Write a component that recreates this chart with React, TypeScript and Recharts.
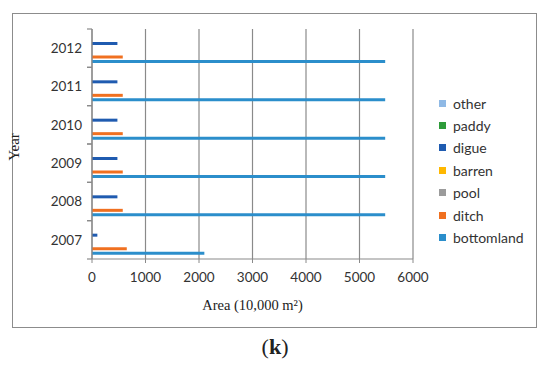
import React from "react";
import { BarChart, Bar, XAxis, YAxis, CartesianGrid, Label } from "recharts";

const years = ["2007", "2008", "2009", "2010", "2011", "2012"];
const bottomland = [2100, 5480, 5480, 5480, 5480, 5480];
const ditch = [650, 575, 575, 575, 575, 575];
const pool = [0, 0, 0, 0, 0, 0];
const barren = [0, 0, 0, 0, 0, 0];
const digue = [100, 475, 475, 475, 475, 475];
const paddy = [0, 0, 0, 0, 0, 0];
const other = [0, 0, 0, 0, 0, 0];
const xTicks = [0, 1000, 2000, 3000, 4000, 5000, 6000];

const series = [
  { key: "other", color: "#8FB9E5", values: other },
  { key: "paddy", color: "#2E9B3A", values: paddy },
  { key: "digue", color: "#1F5BB0", values: digue },
  { key: "barren", color: "#FFB800", values: barren },
  { key: "pool", color: "#9B9B9B", values: pool },
  { key: "ditch", color: "#F07020", values: ditch },
  { key: "bottomland", color: "#2B8ECB", values: bottomland },
];

const data = years.map((y, i) => {
  const row: Record<string, string | number> = { year: y };
  series.forEach((s) => (row[s.key] = s.values[i]));
  return row;
});

const FONT = "Lato, 'Open Sans', sans-serif";
const SERIF = "'Liberation Serif', 'Times New Roman', serif";
const AXIS = "#8a8a8a";

const YTick = (props: any) => {
  const { x, y, payload } = props;
  const off = payload && payload.offset ? payload.offset : 19.2;
  return (
    <g>
      <line x1={x + 5} x2={x + 10} y1={y - off} y2={y - off} stroke={AXIS} strokeWidth={1.2} />
      <line x1={x + 5} x2={x + 10} y1={y + off} y2={y + off} stroke={AXIS} strokeWidth={1.2} />
      <text x={x} y={y} dy="0.35em" textAnchor="end" fontFamily={FONT} fontSize={13.5} fill="#333">
        {payload.value}
      </text>
    </g>
  );
};

const LegendBox = () => (
  <div style={{ position: "absolute", left: 439, top: 92, fontFamily: FONT, fontSize: 14, color: "#333" }}>
    {series.map((s) => (
      <div key={s.key} style={{ height: 22.4, display: "flex", alignItems: "center" }}>
        <span style={{ display: "inline-block", width: 7, height: 7, background: s.color, marginRight: 7 }} />
        <span>{s.key}</span>
      </div>
    ))}
  </div>
);

export default function App() {
  return (
    <div style={{ position: "absolute", left: 0, top: 0, width: 550, height: 365, background: "#fff" }}>
      <div
        style={{
          position: "absolute",
          left: 12,
          top: 13,
          width: 525,
          height: 315,
          border: "1px solid #8c8c8c",
          boxSizing: "border-box",
        }}
      />
      <div style={{ position: "absolute", left: 0, top: 0 }}>
        <BarChart
          width={550}
          height={365}
          data={data}
          layout="vertical"
          margin={{ top: 29, right: 137, bottom: 0, left: 0 }}
          barSize={3}
          barGap={1.5}
        >
          <CartesianGrid horizontal={false} vertical stroke={AXIS} strokeWidth={1.2} />
          <XAxis
            type="number"
            domain={[0, 6000]}
            ticks={xTicks}
            height={106}
            tickSize={4}
            tickMargin={9}
            axisLine={{ stroke: AXIS, strokeWidth: 1.2 }}
            tickLine={{ stroke: AXIS }}
            tick={{ fontFamily: FONT, fontSize: 13.5, fill: "#333" }}
            interval={0}
          >
            <Label
              value="Area (10,000 m²)"
              position="insideTop"
              offset={41}
              style={{ fontFamily: SERIF, fontSize: 14.5, fill: "#222" }}
            />
          </XAxis>
          <YAxis
            type="category"
            dataKey="year"
            reversed
            width={92}
            tickSize={10}
            tickMargin={0}
            tickLine={false}
            axisLine={{ stroke: AXIS, strokeWidth: 1.2 }}
            tick={<YTick />}
            interval={0}
          />
          {series.map((s) => (
            <Bar key={s.key} dataKey={s.key} name={s.key} fill={s.color} isAnimationActive={false} />
          ))}
        </BarChart>
      </div>
      <LegendBox />
      <div
        style={{
          position: "absolute",
          left: 14,
          top: 147,
          transform: "translate(-50%, -50%) rotate(-90deg)",
          fontFamily: SERIF,
          fontSize: 15,
          color: "#222",
          whiteSpace: "nowrap",
        }}
      >
        Year
      </div>
      <div
        style={{
          position: "absolute",
          left: 0,
          width: 550,
          top: 334,
          textAlign: "center",
          fontFamily: SERIF,
          fontSize: 22,
          color: "#222",
        }}
      >
        (<b>k</b>)
      </div>
    </div>
  );
}
